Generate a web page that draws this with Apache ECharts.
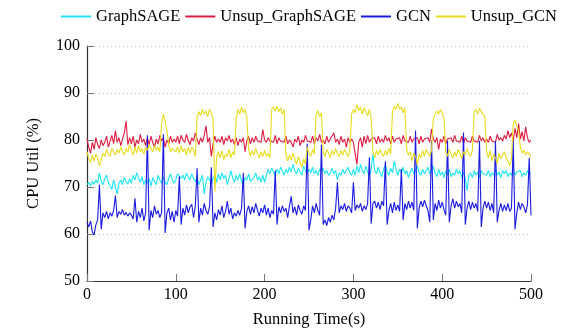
<!DOCTYPE html>
<html>
<head>
<meta charset="utf-8">
<script src="https://cdn.jsdelivr.net/npm/echarts@6/dist/echarts.min.js"></script>
<style>
  html, body { margin: 0; padding: 0; background: #fff; }
  #chart { width: 564px; height: 334px; }
</style>
</head>
<body>
<div id="chart"></div>
<script>
// one sample every 2 s, 0..500 s
const stepSec = 2;

const seriesNames = ['GraphSAGE', 'Unsup_GraphSAGE', 'GCN', 'Unsup_GCN'];
const xTicks = [0, 100, 200, 300, 400, 500];
const yTicks = [50, 60, 70, 80, 90, 100];

const graphSage = [
  70.5, 71, 70.2, 71.2, 70.6, 71.5, 70.8, 73, 71.2, 70.5, 71.8, 72.5, 71, 70.2, 69.5, 71.5, 70, 68.5, 70.8, 71.5, 70.5, 72, 71.2, 70.6, 71.8,
  70.8, 72.5, 71.5, 73, 72, 71, 72.2, 70.5, 71.5, 70.8, 71.8, 70.2, 72, 71.2, 70.5, 72.5, 71.5, 70.8, 72.2, 71, 70.5, 71.8, 72.8, 71.5, 70.8,
  71.5, 72.8, 73.2, 71.8, 72.5, 71.5, 73, 72.2, 71.5, 72.8, 71.8, 71.2, 72, 70.5, 71.5, 72.5, 68.5, 71, 72.2, 71.5, 70.8, 71.8, 72.5, 71, 72.8,
  71.5, 73, 71.8, 72.5, 70.5, 71.8, 73.5, 72, 71, 72.5, 71.5, 72.8, 71.2, 70.5, 72, 71.5, 72.8, 71.2, 70.8, 72, 73, 71.5, 72.2, 71, 72.5,
  71, 72.5, 73.8, 72.8, 74, 73.2, 72.5, 73.8, 72.8, 74.2, 73.5, 72.5, 73.8, 73, 74.2, 73.2, 74.8, 73.5, 72.8, 74, 73.2, 72.5, 74.5, 73.5, 72.8,
  73.8, 73, 74.2, 72.8, 73.5, 72.5, 73.8, 73.2, 74, 72.8, 73.5, 72.5, 73, 74, 72.8, 73.5, 71.5, 73, 72.5, 73.8, 72.8, 73.5, 74.2, 73, 72.5,
  73.8, 72.5, 74.5, 73, 74.8, 73.5, 72.8, 74.5, 73.2, 72.5, 73.8, 77, 73.5, 72.8, 74.2, 73, 72.2, 73.8, 74.8, 73.2, 72.5, 74, 73, 75.5, 73.8,
  72.5, 73.8, 73, 74.2, 72.8, 73.5, 72, 73.2, 74, 72.8, 73.5, 74.5, 73, 72.5, 73.8, 72.8, 73.5, 74.2, 72.8, 73.5, 74.4, 73, 72.2, 73.8, 72.5,
  73.2, 72, 73.5, 72.5, 73.8, 72.2, 73, 72.5, 73.8, 72.8, 73.5, 72, 73.2, 71.8, 69.2, 72.5, 73, 72, 73.5, 72.5, 73.2, 72, 73.5, 72.8, 73.2,
  72.5, 73.5, 72.2, 73, 72.5, 73.8, 72.5, 73.2, 72, 73.5, 72.8, 73.5, 72.2, 73, 72.5, 73.8, 72.5, 73.2, 72.8, 73.5, 72.2, 73, 72.5, 73.5, 72.8, 73
];

const unsupGraphSage = [
  80.2, 78.5, 77.2, 79.5, 78, 80.5, 79, 78.2, 80, 78.8, 79.5, 80.8, 78.5, 79.8, 81, 79.2, 82, 79.5, 80.5, 78.8, 80.2, 81.5, 84, 79, 80.5,
  79.2, 80.8, 78.5, 80, 79.2, 81.2, 79.5, 80.2, 78.8, 80.5, 79, 80.8, 79.5, 78.5, 80.2, 79.2, 81, 79.8, 80.5, 78.5, 80, 79.2, 80.8, 79.5, 80.2,
  79.5, 80.8, 79.2, 81, 80, 79.5, 81.2, 80, 79, 80.5, 79.8, 81.5, 80.2, 79, 80.5, 79.5, 81, 83, 79.5, 80.5, 76.5, 79.2, 80.8, 79.5, 80.2,
  79.5, 80.8, 79, 80.5, 79.8, 81, 79.5, 80.2, 79, 80.5, 78.8, 80.2, 79.5, 80.5, 77.5, 79.8, 80.8, 79.2, 80.5, 79.5, 80.8, 79.8, 80.2, 79.5, 82.2,
  80, 79.5, 80.5, 79.8, 80.2, 79.5, 81, 79.2, 80.5, 79.8, 80.2, 79.5, 80.8, 79.2, 80, 79.5, 78.5, 80.2, 79.5, 80.8, 78.8, 80, 79.5, 81, 79.8,
  80.2, 79.5, 80.8, 79.2, 80.5, 79.8, 81.2, 79.5, 80, 79.2, 80.8, 79.5, 80.2, 79.8, 81.5, 79.5, 80.2, 79, 80.8, 79.5, 80.2, 78.5, 80.5, 79.5, 80.2,
  79.5, 77, 74.8, 79.5, 80.5, 78.5, 80.8, 79.2, 81, 79.5, 80.2, 79.8, 80.5, 79.2, 80.8, 79.5, 80.2, 79.5, 81, 79.8, 80.5, 79.2, 80.8, 79.5, 80.2,
  79.8, 80.5, 79.2, 81, 79.8, 80.2, 79.5, 80.8, 79.5, 80.2, 79.8, 80.5, 79.2, 80.8, 79.5, 80.2, 79.8, 80.5, 79.5, 82.3, 80.2, 79.5, 80.5, 78, 80.2,
  79.5, 80.8, 79.2, 80.2, 79.8, 80.5, 79.5, 81, 79.8, 80.2, 79.5, 80.8, 79.2, 80.5, 79.8, 80.2, 79.5, 80.8, 79.8, 80.2, 79.5, 81, 79.8, 80.5, 79.5,
  80.2, 79.5, 80.8, 79.8, 80.2, 79.5, 81.2, 80, 80.5, 79.8, 81, 80.2, 82, 80.5, 81.5, 79.8, 82.5, 80.5, 83.5, 80.2, 81.8, 79.8, 82.8, 80.5, 79.5, 80
];

const gcn = [
  62.5, 61.5, 62.8, 60.5, 59.8, 62, 63, 70.5, 61, 64.5, 63.5, 64.8, 63.2, 64.5, 63.8, 65, 68.2, 63.5, 64.8, 64.2, 65.2, 64, 64.6, 63.8, 64.5,
  64, 63.2, 67.6, 62.5, 64.8, 63.5, 65.5, 62.8, 64.5, 81, 60.8, 65, 63.5, 66, 64.2, 65, 63.5, 64.5, 81.2, 60.2, 64.5, 65.5, 63, 64.8, 62.5,
  65, 63.8, 72.3, 62, 65.5, 64, 66.2, 64.5, 65.8, 66.3, 63.5, 66, 74, 62.5, 65.5, 64, 66.5, 65, 64.2, 65.8, 74.2, 61.5, 64.5, 63, 65.2,
  64, 66, 63.5, 64.8, 67, 64.2, 65.5, 63.2, 64.5, 63.8, 65, 64, 65.5, 73, 61.2, 64.8, 66, 64.2, 65.8, 64.5, 66.5, 65, 63.8, 65.5, 64.5,
  66.2, 64, 65.5, 63.5, 65, 64.2, 73.5, 62, 65.8, 64.5, 66, 64.8, 65.5, 63.5, 66, 68, 64.5, 65.8, 64, 66.2, 65, 64.2, 66, 65, 79.2,
  60.8, 63, 66, 64.5, 66.5, 65, 64, 79, 62, 63, 61.8, 63.5, 62.5, 64, 63, 65.5, 71, 64.5, 66, 65.2, 66.5, 64.8, 66, 65.5, 64.5,
  71, 65, 66.2, 65.5, 66.5, 64.8, 66, 65.2, 66.5, 76.3, 62.2, 66.5, 67, 65.5, 66.8, 65.2, 67, 66, 75.5, 62, 65, 66.5, 64.5, 66.8, 65,
  66.2, 64.8, 73.8, 63, 66.5, 65.2, 67, 65.5, 66.8, 65, 82, 61.2, 65.5, 67, 65.8, 67.2, 66, 65, 62.5, 79.8, 63, 66.5, 65, 67.2, 65.5,
  66.8, 65.2, 64, 79.8, 62.5, 66, 67.5, 65.5, 67, 65.8, 66.5, 64.5, 81.6, 62, 65.5, 67, 65.2, 66.8, 65.5, 66.5, 64.8, 79.8, 61.5, 65.5, 67,
  65.5, 66.8, 65, 66.5, 64.5, 79.8, 62.5, 65, 66.5, 64.8, 66.2, 65, 66.5, 64.8, 65.5, 79.8, 61, 64.5, 66.8, 65.2, 66.5, 65.8, 64.5, 66.2, 76.2, 64
];

const unsupGcn = [
  77.5, 76, 75.2, 76.8, 75.5, 77, 76.2, 74.5, 75.8, 77.2, 76.5, 78, 77.2, 76.5, 78.2, 77.5, 76.8, 78, 77.2, 78.5, 77.5, 76.8, 78.2, 77.5, 79,
  77.8, 76.8, 78.5, 77.2, 78.8, 77.5, 78.2, 77, 78.5, 77.8, 79, 78.2, 77.5, 78.8, 77.8, 78.5, 77.5, 83.5, 85.5, 84, 82, 79, 77.5, 78.2, 77.8,
  77.5, 78.5, 77.2, 78.8, 77.5, 78.2, 76.8, 78.5, 77.2, 78.5, 77.8, 76.5, 85, 86, 85.2, 86.5, 85.5, 86.2, 85, 86.5, 85.8, 84.5, 69, 76.5, 77.5,
  76.2, 77.8, 75.8, 77, 76.5, 78, 76.2, 77.5, 76.8, 84.5, 86.5, 85.5, 87, 85.8, 86.5, 84.8, 78, 76.5, 77.8, 76.8, 78.2, 77, 76.2, 77.5, 76.5,
  77.8, 76.5, 77.2, 76.2, 86.5, 87, 86.2, 87.2, 86, 86.8, 85.5, 86.5, 77, 75.5, 76.8, 75.8, 77.2, 76, 74.8, 76.5, 75.2, 74.2, 76, 74.8, 78.5,
  77.2, 76.5, 78, 77, 85.5, 86.2, 85, 85.8, 77.5, 76.5, 78, 77.2, 76.2, 77.8, 76.8, 78.2, 77, 76.5, 77.8, 76.8, 78, 77.2, 76.5, 77.8, 85.5,
  86.5, 85.8, 87.5, 86.2, 87, 85.5, 86.8, 86, 85.2, 86.5, 84.5, 77.5, 76.2, 77.8, 76.8, 78, 77, 76.5, 77.8, 76.8, 78.2, 77, 86, 87.2, 86.5,
  87.8, 86.5, 87, 85.8, 86.8, 78, 76.8, 77.5, 75.5, 77.2, 76.5, 74.8, 77, 76.2, 77.8, 76.5, 78, 77.2, 76.5, 77.8, 84.5, 85.5, 86.2, 85.5, 86.5,
  85.8, 84.5, 77.5, 76.5, 78, 77, 76.2, 77.5, 76.5, 78, 77.2, 76, 77.5, 76.8, 78.2, 77, 76.5, 77.8, 86, 86.5, 85.5, 86.8, 86, 85.8, 85,
  77.5, 76.2, 77.8, 75.5, 77, 76.2, 75, 77.2, 76, 75.8, 77.5, 76.2, 75.5, 74.5, 76, 83.5, 84.2, 83, 82, 78.5, 77.2, 77.8, 76.8, 77.5, 77, 76.5
];

const colors = ['#1ee3f5', '#dc1c40', '#1a1ae0', '#e8dc1e'];
const allValues = [graphSage, unsupGraphSage, gcn, unsupGcn];

const serif = '"Liberation Serif", "DejaVu Serif", serif';

const chart = echarts.init(document.getElementById('chart'));

const option = {
    animation: false,
    textStyle: { fontFamily: serif },
    legend: {
        top: 3,
        left: 56,
        icon: 'rect',
        itemWidth: 30,
        itemHeight: 2,
        itemGap: 5,
        textStyle: { fontFamily: serif, fontSize: 16.5, color: '#000' },
        data: seriesNames
    },
    grid: { left: 87, right: 33, top: 46, bottom: 53 },
    xAxis: {
        type: 'value',
        min: xTicks[0],
        max: xTicks[xTicks.length - 1],
        interval: 100,
        name: 'Running Time(s)',
        nameLocation: 'middle',
        nameGap: 30,
        nameTextStyle: { fontFamily: serif, fontSize: 16.5, color: '#000' },
        axisLine: { lineStyle: { color: '#333', width: 1.2 } },
        axisTick: { inside: true, length: 7, lineStyle: { color: '#777' } },
        axisLabel: { fontFamily: serif, fontSize: 16, color: '#000', margin: 6 },
        splitLine: { show: false }
    },
    yAxis: {
        type: 'value',
        min: yTicks[0],
        max: yTicks[yTicks.length - 1],
        interval: 10,
        name: 'CPU Util (%)',
        nameLocation: 'middle',
        nameGap: 45,
        nameTextStyle: { fontFamily: serif, fontSize: 16.5, color: '#000' },
        axisLine: { show: true, lineStyle: { color: '#333', width: 1.2 } },
        axisTick: { show: true, inside: true, length: 7, lineStyle: { color: '#777' } },
        axisLabel: { fontFamily: serif, fontSize: 16, color: '#000', margin: 7 },
        splitLine: { show: true, lineStyle: { color: '#c8c8c8', type: [1, 3], width: 1 } }
    },
    series: seriesNames.map((name, i) => ({
        name: name,
        type: 'line',
        symbol: 'none',
        color: colors[i],
        lineStyle: { width: 1.1, color: colors[i] },
        data: allValues[i].map((v, k) => [k * stepSec, v])
    }))
};

chart.setOption(option);
</script>
</body>
</html>
